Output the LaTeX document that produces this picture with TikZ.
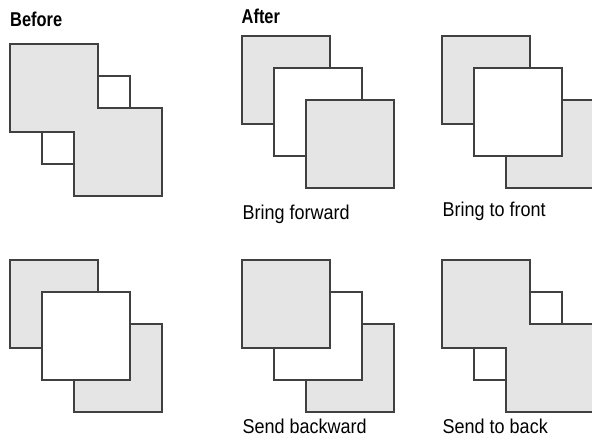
\documentclass[tikz,border=0pt]{standalone}
\usepackage{fontspec}
\newfontfamily\lab[FakeStretch=0.9]{Liberation Sans}
\newfontfamily\labb[FakeStretch=0.82]{Liberation Sans}
\definecolor{edge}{HTML}{404040}
\definecolor{shade}{HTML}{E5E5E5}
\begin{document}
\begin{tikzpicture}[x=1pt,y=-1pt,
  graysq/.style={draw=edge,line width=1.2pt,fill=shade},
  whitesq/.style={draw=edge,line width=1.2pt,fill=white},
  grayfill/.style={fill=shade},
  outline/.style={draw=edge,line width=1.2pt,line join=miter},
  labeltext/.style={inner sep=0pt,anchor=base west,font=\lab\fontsize{20}{22}\selectfont},
  headtext/.style={inner sep=0pt,anchor=base west,font=\labb\bfseries\fontsize{20}{22}\selectfont}]
\useasboundingbox (0,0) rectangle (592,441);
\clip (0,0) rectangle (592,441);
\fill[white] (0,0) rectangle (592,441);

% headings
\node[headtext] (before) at (10,26.7) {Before};
\node[headtext] (after) at (241.5,23.3) {After};

% Before: A and C as one group over B
\path[whitesq] (42,76) rectangle ++(88,88);
\path[grayfill] (10,44) rectangle ++(88,88);
\path[grayfill] (74,108) rectangle ++(88,88);
\path[outline] (10,44) -- (98,44) -- (98,108) -- (162,108) -- (162,196) -- (74,196) -- (74,132) -- (10,132) -- cycle;

% Bring forward
\path[graysq] (242,36) rectangle ++(88,88);
\path[whitesq] (274,68) rectangle ++(88,88);
\path[graysq] (306,100) rectangle ++(88,88);
\node[labeltext] (bf) at (242.5,219) {Bring forward};

% Bring to front
\path[graysq] (442,36) rectangle ++(88,88);
\path[graysq] (506,100) rectangle ++(88,88);
\path[whitesq] (474,68) rectangle ++(88,88);
\node[labeltext] (btf) at (442.5,216.5) {Bring to front};

% Bottom left
\path[graysq] (10,260) rectangle ++(88,88);
\path[graysq] (74,324) rectangle ++(88,88);
\path[whitesq] (42,292) rectangle ++(88,88);

% Send backward
\path[graysq] (306,324) rectangle ++(88,88);
\path[whitesq] (274,292) rectangle ++(88,88);
\path[graysq] (242,260) rectangle ++(88,88);
\node[labeltext] (sb) at (242.5,433) {Send backward};

% Send to back: A and C as one group over B
\path[whitesq] (474,292) rectangle ++(88,88);
\path[grayfill] (442,260) rectangle ++(88,88);
\path[grayfill] (506,324) rectangle ++(88,88);
\path[outline] (442,260) -- (530,260) -- (530,324) -- (594,324) -- (594,412) -- (506,412) -- (506,348) -- (442,348) -- cycle;
\node[labeltext] (stb) at (442.5,433) {Send to back};
\end{tikzpicture}
\end{document}
